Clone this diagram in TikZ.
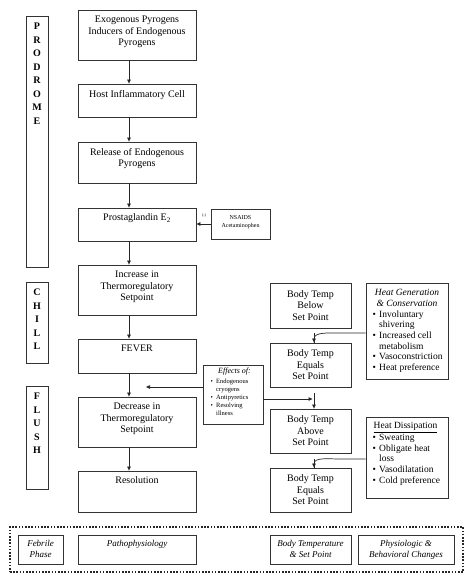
\documentclass[tikz,border=0pt]{standalone}
\usepackage{fontspec}
\setmainfont{Liberation Serif}
\usetikzlibrary{arrows.meta}
\begin{document}
\begin{tikzpicture}[x=1pt,y=-1pt,
  box/.style={draw=black!80, line width=0.8pt, inner sep=0pt},
  mtxt/.style={anchor=north, inner sep=0pt, align=center, font=\fontsize{10}{11.5}\selectfont},
  ctxt/.style={align=center, font=\fontsize{10}{11.5}\selectfont},
  ptxt/.style={anchor=north, inner sep=0pt, align=center, font=\bfseries\fontsize{10}{13.5}\selectfont},
  ltxt/.style={anchor=north, inner sep=0pt, align=center, font=\itshape\fontsize{9}{10.5}\selectfont},
  arr/.style={draw=black!85, line width=0.7pt, -{Triangle[length=4pt,width=3.5pt]}},
  ln/.style={draw=black!85, line width=0.7pt}]
\useasboundingbox (0,0) rectangle (474,583);
% phase boxes
\node[box, minimum width=22pt, minimum height=251pt] (pro) at (37,141.5) {};
\node[ptxt] at ([yshift=-7.3pt]pro.north) {P\\R\\O\\D\\R\\O\\M\\E};
\node[box, minimum width=22pt, minimum height=81pt] (chi) at (37,322.5) {};
\node[ptxt] at ([yshift=-7.3pt]chi.north) {C\\H\\I\\L\\L};
\node[box, minimum width=22pt, minimum height=103pt] (flu) at (37,437.5) {};
\node[ptxt] at ([yshift=-7.3pt]flu.north) {F\\L\\U\\S\\H};
% main column
\node[box, minimum width=118pt, minimum height=50pt] (b1) at (137,35) {};
\node[mtxt] at ([yshift=-6.2pt]b1.north) {Exogenous Pyrogens\\Inducers of Endogenous\\Pyrogens};
\node[box, minimum width=118pt, minimum height=33pt] (b2) at (137,100.5) {};
\node[mtxt] at ([yshift=-6.2pt]b2.north) {Host Inflammatory Cell};
\node[box, minimum width=118pt, minimum height=41pt] (b3) at (137,162.5) {};
\node[mtxt] at ([yshift=-6.2pt]b3.north) {Release of Endogenous\\Pyrogens};
\node[box, minimum width=118pt, minimum height=33pt] (b4) at (137,224.5) {};
\node[mtxt] at ([yshift=-6.2pt]b4.north) {Prostaglandin E\textsubscript{2}};
\node[box, minimum width=118pt, minimum height=50pt] (b5) at (137,290) {};
\node[mtxt] at ([yshift=-6.2pt]b5.north) {Increase in\\Thermoregulatory\\Setpoint};
\node[box, minimum width=118pt, minimum height=34pt] (b6) at (137,356) {};
\node[mtxt] at ([yshift=-6.2pt]b6.north) {FEVER};
\node[box, minimum width=118pt, minimum height=50pt] (b7) at (137,422) {};
\node[mtxt] at ([yshift=-6.2pt]b7.north) {Decrease in\\Thermoregulatory\\Setpoint};
\node[box, minimum width=118pt, minimum height=41pt] (b8) at (137,491.5) {};
\node[mtxt] at ([yshift=-6.2pt]b8.north) {Resolution};
\foreach \a/\b in {b1/b2,b2/b3,b3/b4,b4/b5,b5/b6,b6/b7,b7/b8}
  \draw[arr] ([xshift=-8pt]\a.south) -- ([xshift=-8pt]\b.north);
% NSAIDS
\node[box, minimum width=59pt, minimum height=30pt] (ns) at (240.5,224) {};
\node[anchor=north, inner sep=0pt, align=center, font=\fontsize{6}{7.5}\selectfont] at (240.5,215.5) {NSAIDS\\Acetaminophen};
\draw[arr] (ns.west) -- (ns.west -| b4.east);
\node[inner sep=0pt, font=\fontsize{4}{4}\selectfont] at (204,216) {(-)};
% Effects
\node[box, minimum width=60pt, minimum height=59pt] (ef) at (233,394.5) {};
\node[anchor=north, inner sep=0pt, font=\itshape\fontsize{8}{9}\selectfont] at (234.5,368) {Effects of:};
\node[anchor=north west, inner sep=0pt, align=left, font=\fontsize{6.5}{8.1}\selectfont] at (210.5,378.5)
  {\makebox[5.5pt][l]{\textbullet}Endogenous\\\hspace*{5.5pt}cryogens\\\makebox[5.5pt][l]{\textbullet}Antipyretics\\\makebox[5.5pt][l]{\textbullet}Resolving\\\hspace*{5.5pt}illness};
\coordinate (efl) at (146,387);
\draw[arr] (ef.west |- efl) -- (efl);
\coordinate (efr) at (312.5,399);
\draw[arr] (ef.east |- efr) -- (efr);
% right column
\node[box, minimum width=81pt, minimum height=45pt, ctxt] (bb) at (310.5,305.5) {Body Temp\\Below\\Set Point};
\node[box, minimum width=81pt, minimum height=44pt, ctxt] (e1) at (310.5,365) {Body Temp\\Equals\\Set Point};
\node[box, minimum width=81pt, minimum height=44pt, ctxt] (ab) at (310.5,431) {Body Temp\\Above\\Set Point};
\node[box, minimum width=81pt, minimum height=44pt, ctxt] (e2) at (310.5,490) {Body Temp\\Equals\\Set Point};
\coordinate (t3) at (314,393);
\draw[arr] (t3) -- (t3 |- ab.north);
% heat generation
\node[box, minimum width=82pt, minimum height=96pt] (hg) at (407,331) {};
\node[anchor=north, inner sep=0pt, align=center, font=\itshape\fontsize{9.5}{10.6}\selectfont] at (407,289.5) {Heat Generation\\\& Conservation};
\node[anchor=north west, inner sep=0pt, align=left, font=\fontsize{9.5}{10.6}\selectfont] at (372.5,310.5)
  {\makebox[6.5pt][l]{\textbullet}Involuntary\\\hspace*{6.5pt}shivering\\\makebox[6.5pt][l]{\textbullet}Increased cell\\\hspace*{6.5pt}metabolism\\\makebox[6.5pt][l]{\textbullet}Vasoconstriction\\\makebox[6.5pt][l]{\textbullet}Heat preference};
\coordinate (t1) at (314,333);
\draw[ln] (t1) -- (t1 |- e1.north);
\draw[arr] (hg.west |- t1) -- ++(-26,0) to[out=180,in=90] (t1 |- e1.north);
% heat dissipation
\node[box, minimum width=82pt, minimum height=81pt] (hd) at (407,457.5) {};
\node[anchor=north, inner sep=0pt, font=\fontsize{9.5}{10.6}\selectfont] at (405.5,422.5) {\underline{Heat Dissipation}};
\node[anchor=north west, inner sep=0pt, align=left, font=\fontsize{9.5}{10.75}\selectfont] at (372.5,434)
  {\makebox[6.5pt][l]{\textbullet}Sweating\\\makebox[6.5pt][l]{\textbullet}Obligate heat\\\hspace*{6.5pt}loss\\\makebox[6.5pt][l]{\textbullet}Vasodilatation\\\makebox[6.5pt][l]{\textbullet}Cold preference};
\coordinate (t2) at (314,459);
\draw[ln] (t2) -- (t2 |- e2.north);
\draw[arr] (hd.west |- t2) -- ++(-26,0) to[out=180,in=90] (t2 |- e2.north);
% legend
\node[draw=black!85, line width=1.6pt, dash pattern=on 1.6pt off 1.6pt, minimum width=453pt, minimum height=45pt, inner sep=0pt] (leg) at (236.5,549.5) {};
\node[box, minimum width=45pt, minimum height=29pt] (fp) at (40.5,549.5) {};
\node[ltxt] at ([yshift=-5.5pt]fp.north) {Febrile\\Phase};
\node[box, minimum width=118pt, minimum height=29pt] (pp) at (137,549.5) {};
\node[ltxt] at ([yshift=-5.5pt]pp.north) {Pathophysiology};
\node[box, minimum width=81pt, minimum height=29pt] (bt) at (310.5,549.5) {};
\node[ltxt] at ([yshift=-5.5pt]bt.north) {Body Temperature\\\& Set Point};
\node[box, minimum width=96pt, minimum height=29pt] (pb) at (406,549.5) {};
\node[ltxt] at ([yshift=-5.5pt]pb.north) {Physiologic \&\\Behavioral Changes};
\end{tikzpicture}
\end{document}
